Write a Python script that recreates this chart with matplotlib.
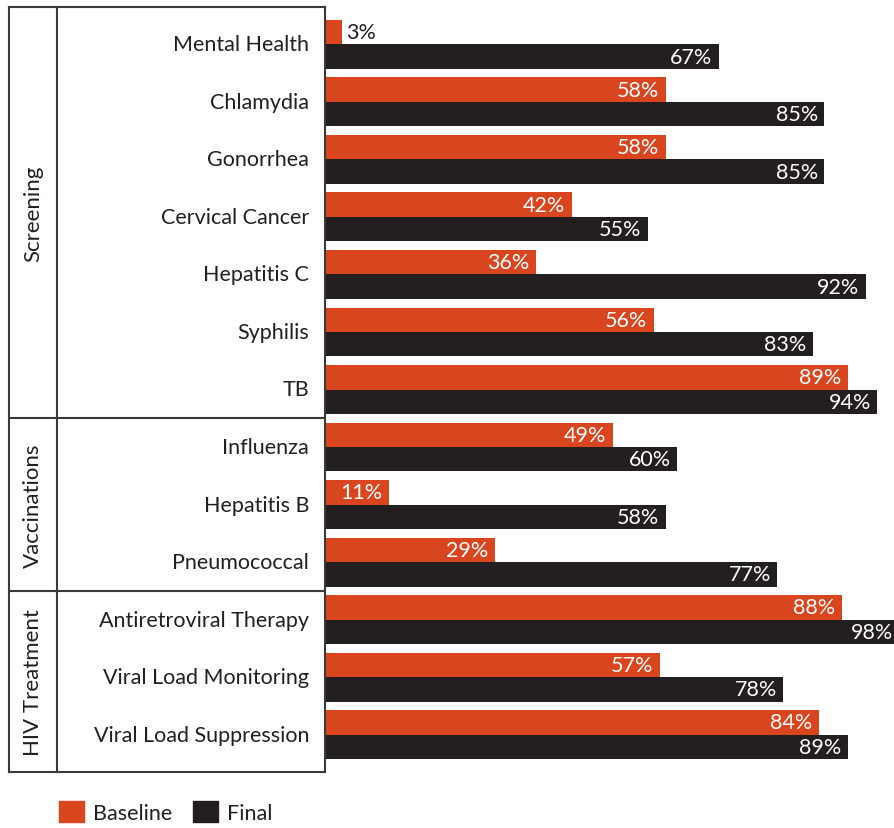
import matplotlib.pyplot as plt
import numpy as np
from matplotlib.patches import Patch
from matplotlib.lines import Line2D

categories = ['Mental Health', 'Chlamydia', 'Gonorrhea', 'Cervical Cancer', 'Hepatitis C',
              'Syphilis', 'TB', 'Influenza', 'Hepatitis B', 'Pneumococcal',
              'Antiretroviral Therapy', 'Viral Load Monitoring', 'Viral Load Suppression']
baseline = [3, 58, 58, 42, 36, 56, 89, 49, 11, 29, 88, 57, 84]
final = [67, 85, 85, 55, 92, 83, 94, 60, 58, 77, 98, 78, 89]
groups = ['Screening', 'Vaccinations', 'HIV Treatment']
group_sizes = [7, 3, 3]

orange = '#d9451e'
dark = '#231f20'
linec = '#3a3a3a'
plt.rcParams['font.family'] = ['Lato', 'DejaVu Sans']

W, H = 895, 829
fig = plt.figure(figsize=(W / 100, H / 100), dpi=100)
# bar axes: x 324.5..895, y 8..773 (pixels from top)
ax = fig.add_axes([324.5 / W, 1 - 773 / H, 570.5 / W, 765 / H])

xmax = 97
y = np.arange(len(categories))
bh = 0.426
ax.barh(y - bh / 2, baseline, height=bh, color=orange)
ax.barh(y + bh / 2, final, height=bh, color=dark)
ax.set_xlim(0, xmax)
ax.set_ylim(len(categories) - 1 + 0.652, -0.652)
ax.axis('off')

fs = 15.5
pad = 1.1
for i in range(len(categories)):
    b = baseline[i]
    if b < 8:
        ax.text(b + 0.6, i - bh / 2, f'{b}%', ha='left', va='center', color=dark, fontsize=fs)
    else:
        ax.text(min(b, xmax) - pad, i - bh / 2, f'{b}%', ha='right', va='center',
                color='white', fontsize=fs)
    f = final[i]
    ax.text(min(f, xmax + 0.7) - pad, i + bh / 2, f'{f}%', ha='right', va='center',
            color='white', fontsize=fs, clip_on=False)
    ax.text(-2.6, i, categories[i], ha='right', va='center', color=dark, fontsize=fs,
            clip_on=False)

# table frame on the left
def fx(px):
    return px / W

def fy(py):
    return 1 - py / H

lw = 1.5
top, bot = 8, 773
fig.add_artist(Line2D([fx(9), fx(9)], [fy(top), fy(bot)], color=linec, lw=lw))
fig.add_artist(Line2D([fx(57), fx(57)], [fy(top), fy(bot)], color=linec, lw=lw))
fig.add_artist(Line2D([fx(325), fx(325)], [fy(top), fy(bot)], color=linec, lw=lw))
fig.add_artist(Line2D([fx(9), fx(325)], [fy(top), fy(top)], color=linec, lw=lw))
fig.add_artist(Line2D([fx(9), fx(325)], [fy(bot), fy(bot)], color=linec, lw=lw))

start = 0
for g, n in zip(groups, group_sizes):
    end = start + n
    y0 = ax.transData.transform((0, start - 0.5 if start > 0 else -0.652))[1]
    y1 = ax.transData.transform((0, end - 0.5 if end < len(categories) else end - 1 + 0.652))[1]
    y0f = y0 / fig.bbox.height
    y1f = y1 / fig.bbox.height
    if end < len(categories):
        fig.add_artist(Line2D([fx(9), fx(325)], [y1f, y1f], color=linec, lw=lw))
    fig.text(fx(33), (y0f + y1f) / 2, g, rotation=90, ha='center', va='center',
             color=dark, fontsize=16)
    start = end

handles = [Patch(color=orange, label='Baseline'), Patch(color=dark, label='Final')]
fig.legend(handles=handles, loc='center left', bbox_to_anchor=(fx(59), fy(813)), ncol=2,
           frameon=False, fontsize=fs, handlelength=1.16, handleheight=1.16,
           handletextpad=0.4, columnspacing=1.0, borderpad=0, borderaxespad=0,
           labelcolor=dark)

fig.savefig('out.png', dpi=100)
